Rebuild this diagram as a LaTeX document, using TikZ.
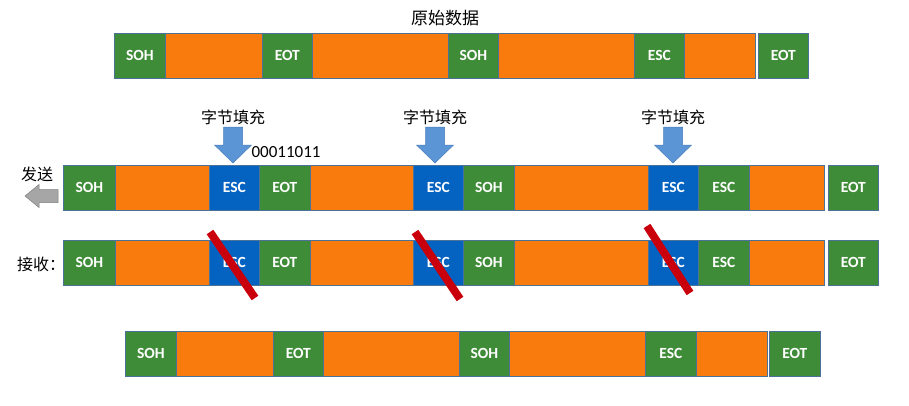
\documentclass[tikz,border=0pt]{standalone}
\usepackage{fontspec}
\setmainfont{Carlito}
\newfontfamily\cjk{Noto Sans CJK SC}
\usetikzlibrary{positioning}
\definecolor{bsgreen}{HTML}{3F8C38}
\definecolor{bsorange}{HTML}{F97B0E}
\definecolor{bsblue}{HTML}{0462C1}
\definecolor{bsline}{HTML}{4D7298}
\definecolor{bsarrow}{HTML}{5B95D6}
\definecolor{bsarrowline}{HTML}{4A7EBB}
\definecolor{bsgray}{HTML}{A6A6A6}
\definecolor{bsred}{HTML}{C9000C}
\tikzset{
  bs seg/.style={draw=bsline, line width=0.7pt, minimum height=45, inner sep=0pt,
    anchor=north west, text=white, font=\bfseries\fontsize{15.5}{17}\selectfont},
  gseg/.style={bs seg, fill=bsgreen},
  oseg/.style={bs seg, fill=bsorange},
  bseg/.style={bs seg, fill=bsblue},
  bs label/.style={font=\cjk\fontsize{16}{18}\selectfont, text=black, inner sep=0pt},
  bs fill arrow/.style={fill=bsarrow, draw=bsarrowline, line width=0.5pt},
  bs slash/.style={draw=bsred, line width=8pt}
}
\begin{document}
\begin{tikzpicture}[x=1pt, y=-1pt]
  \useasboundingbox[fill=white] (0,0) rectangle (909,405);
  % original frame
  \node[bs label, font=\cjk\fontsize{17}{19}\selectfont] (orig) at (445,18) {原始数据};
  \foreach \a/\b/\k/\t [count=\i] in {114/165/gseg/SOH, 165/262/oseg/{}, 262/312/gseg/EOT,
      312/448/oseg/{}, 448/498/gseg/SOH, 498/634/oseg/{}, 634/684/gseg/ESC,
      684/755/oseg/{}, 758/808/gseg/EOT}
    \node[\k, minimum width=\b pt-\a pt] (top\i) at (\a,33) {\t};
  % sent and received frames
  \foreach \row/\y in {snd/165, rcv/240}
    \foreach \a/\b/\k/\t [count=\i] in {63/115/gseg/SOH, 115/209/oseg/{}, 209/259/bseg/ESC,
        259/310/gseg/EOT, 310/413/oseg/{}, 413/463/bseg/ESC, 463/514/gseg/SOH,
        514/648/oseg/{}, 648/698/bseg/ESC, 698/749/gseg/ESC, 749/824/oseg/{},
        828/878/gseg/EOT}
      \node[\k, minimum width=\b pt-\a pt] (\row\i) at (\a,\y) {\t};
  % byte stuffing arrows
  \foreach \x [count=\n] in {233,435,673} {
    \node[bs label] (stuff\n) at (\x,117) {字节填充};
    \draw[bs fill arrow] ({\x-9.5},127) -- ({\x+9.5},127) -- ({\x+9.5},145)
      -- ({\x+18.5},145) -- (\x,163) -- ({\x-18.5},145) -- ({\x-9.5},145) -- cycle;
  }
  \node[font=\fontsize{17}{19}\selectfont, inner sep=0pt] (code) at (286,152) {00011011};
  % send direction
  \node[bs label] (send) at (37,174) {发送};
  \draw[fill=bsgray, draw=gray, line width=0.5pt] (25,196) -- (39,184.5) -- (39,189.5)
    -- (58,189.5) -- (58,202.5) -- (39,202.5) -- (39,207.5) -- cycle;
  \node[bs label, anchor=west] (recv) at (17,264) {接收：};
  % removed escape bytes
  \draw[bs slash] (210,232) -- (255,298);
  \draw[bs slash] (415,232) -- (460,299);
  \draw[bs slash] (647,226) -- (690,293);
  % recovered frame
  \foreach \a/\b/\k/\t [count=\i] in {125/176/gseg/SOH, 176/273/oseg/{}, 273/323/gseg/EOT,
      323/459/oseg/{}, 459/509/gseg/SOH, 509/645/oseg/{}, 645/696/gseg/ESC,
      696/767/oseg/{}, 769/820/gseg/EOT}
    \node[\k, minimum width=\b pt-\a pt] (bot\i) at (\a,331) {\t};
\end{tikzpicture}
\end{document}
